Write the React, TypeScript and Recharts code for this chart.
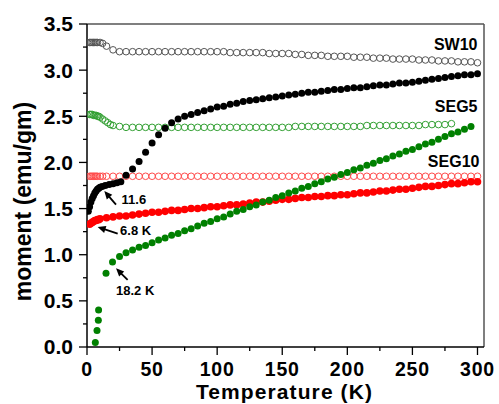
import React from "react";
import { ScatterChart, Scatter, XAxis, YAxis, ReferenceLine } from "recharts";

type Pt = [number, number];

// field-cooled (open symbols)
const sw10Fc: Pt[] = [
  [2, 3.3], [3, 3.3], [4, 3.3], [5, 3.3], [6, 3.3], [7, 3.3], [8, 3.3], [10, 3.3],
  [12, 3.29], [15, 3.26], [20, 3.22], [25, 3.2], [30, 3.2], [35, 3.2], [40, 3.2],
  [45, 3.2], [50, 3.2], [55, 3.2], [60, 3.2], [65, 3.2], [70, 3.2], [75, 3.2],
  [80, 3.2], [85, 3.2], [90, 3.2], [95, 3.2], [100, 3.2], [105, 3.2], [110, 3.19],
  [115, 3.19], [120, 3.19], [125, 3.19], [130, 3.19], [135, 3.19], [140, 3.18],
  [145, 3.18], [150, 3.18], [155, 3.18], [160, 3.17], [165, 3.17], [170, 3.16],
  [175, 3.16], [180, 3.16], [185, 3.15], [190, 3.15], [195, 3.15], [200, 3.15],
  [205, 3.14], [210, 3.14], [215, 3.14], [220, 3.13], [225, 3.13], [230, 3.13],
  [235, 3.12], [240, 3.12], [245, 3.12], [250, 3.12], [255, 3.11], [260, 3.11],
  [265, 3.11], [270, 3.1], [275, 3.1], [280, 3.1], [285, 3.09], [290, 3.09],
  [295, 3.09], [300, 3.08],
];

const seg5Fc: Pt[] = [
  [2, 2.52], [3, 2.52], [4, 2.52], [5, 2.51], [6, 2.51], [7, 2.51], [8, 2.5],
  [9, 2.5], [10, 2.49], [12, 2.47], [14, 2.45], [16, 2.43], [18, 2.41], [20, 2.4],
  [25, 2.39], [30, 2.38], [35, 2.38], [40, 2.38], [45, 2.38], [50, 2.38], [55, 2.38],
  [60, 2.38], [65, 2.38], [70, 2.38], [75, 2.38], [80, 2.38], [85, 2.38], [90, 2.38],
  [95, 2.38], [100, 2.38], [105, 2.38], [110, 2.38], [115, 2.38], [120, 2.38],
  [125, 2.38], [130, 2.38], [135, 2.38], [140, 2.38], [145, 2.38], [150, 2.38],
  [155, 2.38], [160, 2.39], [165, 2.39], [170, 2.39], [175, 2.39], [180, 2.39],
  [185, 2.39], [190, 2.39], [195, 2.39], [200, 2.39], [205, 2.39], [210, 2.39],
  [215, 2.4], [220, 2.4], [225, 2.4], [230, 2.4], [235, 2.4], [240, 2.4],
  [245, 2.4], [250, 2.4], [255, 2.4], [260, 2.41], [265, 2.41], [270, 2.41],
  [275, 2.41], [280, 2.42],
];

const seg10Fc: Pt[] = [
  [2, 1.85], [3, 1.85], [4, 1.85], [5, 1.85], [6, 1.85], [7, 1.85], [8, 1.85],
  [10, 1.85], [12, 1.85], [15, 1.85], [20, 1.85], [25, 1.85], [30, 1.85], [35, 1.85],
  [40, 1.85], [45, 1.85], [50, 1.85], [55, 1.85], [60, 1.85], [65, 1.85], [70, 1.85],
  [75, 1.85], [80, 1.85], [85, 1.85], [90, 1.85], [95, 1.85], [100, 1.85],
  [105, 1.85], [110, 1.85], [115, 1.85], [120, 1.85], [125, 1.85], [130, 1.85],
  [135, 1.85], [140, 1.85], [145, 1.85], [150, 1.85], [155, 1.85], [160, 1.85],
  [165, 1.85], [170, 1.85], [175, 1.85], [180, 1.85], [185, 1.85], [190, 1.85],
  [195, 1.85], [200, 1.85], [205, 1.85], [210, 1.85], [215, 1.85], [220, 1.85],
  [225, 1.85], [230, 1.85], [235, 1.85], [240, 1.85], [245, 1.85], [250, 1.85],
  [255, 1.85], [260, 1.85], [265, 1.85], [270, 1.85], [275, 1.85], [280, 1.85],
  [285, 1.85], [290, 1.85], [295, 1.85], [300, 1.85],
];

// zero-field-cooled (filled symbols)
const sw10Zfc: Pt[] = [
  [1, 1.47], [2, 1.52], [3, 1.57], [4, 1.61], [5, 1.64], [6, 1.67], [7, 1.69],
  [8, 1.71], [9, 1.72], [10, 1.73], [11.6, 1.74], [14, 1.75], [17, 1.76], [20, 1.77],
  [23, 1.78], [26, 1.79], [30, 1.86], [35, 1.93], [40, 2.01], [45, 2.11], [50, 2.21],
  [55, 2.3], [60, 2.37], [65, 2.43], [70, 2.47], [75, 2.5], [80, 2.52], [85, 2.54],
  [90, 2.56], [95, 2.58], [100, 2.6], [105, 2.61], [110, 2.63], [115, 2.64],
  [120, 2.66], [125, 2.67], [130, 2.68], [135, 2.69], [140, 2.7], [145, 2.71],
  [150, 2.72], [155, 2.73], [160, 2.74], [165, 2.75], [170, 2.76], [175, 2.76],
  [180, 2.77], [185, 2.78], [190, 2.79], [195, 2.79], [200, 2.8], [205, 2.81],
  [210, 2.81], [215, 2.82], [220, 2.83], [225, 2.84], [230, 2.84], [235, 2.85],
  [240, 2.86], [245, 2.86], [250, 2.87], [255, 2.88], [260, 2.89], [265, 2.9],
  [270, 2.91], [275, 2.92], [280, 2.93], [285, 2.94], [290, 2.95], [295, 2.95],
  [300, 2.96],
];

const seg10Zfc: Pt[] = [
  [2, 1.33], [3, 1.34], [4, 1.35], [5, 1.36], [6, 1.37], [7, 1.37], [8, 1.38],
  [9, 1.38], [10, 1.39], [15, 1.4], [20, 1.41], [25, 1.42], [30, 1.42], [35, 1.43],
  [40, 1.44], [45, 1.45], [50, 1.46], [55, 1.46], [60, 1.47], [65, 1.48], [70, 1.48],
  [75, 1.49], [80, 1.5], [85, 1.5], [90, 1.51], [95, 1.52], [100, 1.52], [105, 1.53],
  [110, 1.54], [115, 1.54], [120, 1.55], [125, 1.56], [130, 1.57], [135, 1.57],
  [140, 1.58], [145, 1.59], [150, 1.6], [155, 1.6], [160, 1.61], [165, 1.62],
  [170, 1.62], [175, 1.63], [180, 1.63], [185, 1.64], [190, 1.64], [195, 1.65],
  [200, 1.65], [205, 1.66], [210, 1.67], [215, 1.67], [220, 1.68], [225, 1.69],
  [230, 1.69], [235, 1.7], [240, 1.71], [245, 1.71], [250, 1.72], [255, 1.73],
  [260, 1.74], [265, 1.74], [270, 1.75], [275, 1.76], [280, 1.77], [285, 1.77],
  [290, 1.78], [295, 1.79], [300, 1.79],
];

const seg5Zfc: Pt[] = [
  [6.4, 0.05], [7.7, 0.18], [8.7, 0.29], [8.9, 0.4], [14.6, 0.8], [19.6, 0.92],
  [25, 0.98], [30, 1.02], [35, 1.05], [40, 1.08], [45, 1.1], [50, 1.13], [55, 1.16],
  [60, 1.18], [65, 1.21], [70, 1.23], [75, 1.26], [80, 1.28], [85, 1.31], [90, 1.34],
  [95, 1.36], [100, 1.39], [105, 1.41], [110, 1.44], [115, 1.47], [120, 1.49],
  [125, 1.52], [130, 1.54], [135, 1.57], [140, 1.59], [145, 1.62], [150, 1.64],
  [155, 1.67], [160, 1.69], [165, 1.72], [170, 1.74], [175, 1.77], [180, 1.79],
  [185, 1.82], [190, 1.84], [195, 1.87], [200, 1.89], [205, 1.92], [210, 1.94],
  [215, 1.97], [220, 1.99], [225, 2.02], [230, 2.04], [235, 2.07], [240, 2.09],
  [245, 2.12], [250, 2.14], [255, 2.17], [260, 2.2], [265, 2.22], [270, 2.25],
  [275, 2.28], [280, 2.31], [285, 2.33], [290, 2.36], [295, 2.39],
];

const xTicks = [0, 25, 50, 75, 100, 125, 150, 175, 200, 225, 250, 275, 300];
const yTicks = [0, 0.25, 0.5, 0.75, 1, 1.25, 1.5, 1.75, 2, 2.25, 2.5, 2.75, 3, 3.25, 3.5];

const seriesLabels = [
  { t: 300, m: 3.22, text: "SW10" },
  { t: 300, m: 2.55, text: "SEG5" },
  { t: 301.5, m: 1.95, text: "SEG10" },
];

// arrow tips sit on the data, text and tail are offset in pixels
const arrowNotes = [
  { t: 13.3, m: 1.69, text: "11.6" },
  { t: 8.2, m: 1.3, text: "6.8 K" },
  { t: 22.3, m: 0.853, text: "18.2 K" },
];
const noteLayout = [
  { tail: [11.7, 13.6], txt: [17.3, 12.6] },
  { tail: [20, 6.6], txt: [22.4, 8.3] },
  { tail: [11.6, 11.7], txt: [0, 26.7] },
];

const FONT = "'Liberation Sans', Arial, Helvetica, sans-serif";
const TICK = 8;
const X_MARGIN = 7;
const Y_MARGIN = 6;

const toRows = (pts: Pt[]) => pts.map(([t, m]) => ({ t, m }));

const openDot = (stroke: string) => (p: any) =>
  <circle cx={p.cx} cy={p.cy} r={3.3} fill="none" stroke={stroke} strokeWidth={1} />;

const filledDot = (fill: string, r = 3.5) => (p: any) =>
  <circle cx={p.cx} cy={p.cy} r={r} fill={fill} stroke="none" />;

const XTick = (props: any) => {
  const { x, y, payload } = props;
  const v = payload.value;
  const major = v % 50 === 0;
  const axisY = y - TICK - X_MARGIN;
  return (
    <g>
      <line x1={x} x2={x} y1={axisY} y2={axisY + (major ? TICK : 4)} stroke="#000" strokeWidth={1.3} />
      {major && (
        <text x={x} y={y} dy="0.71em" textAnchor="middle" fontFamily={FONT} fontWeight="bold" fontSize={19.5} letterSpacing={0.8} fill="#000">
          {v}
        </text>
      )}
    </g>
  );
};

const YTick = (props: any) => {
  const { x, y, payload } = props;
  const v = payload.value;
  const major = Math.abs((v * 2) % 1) < 1e-6;
  const axisX = x + TICK + Y_MARGIN;
  return (
    <g>
      <line x1={axisX} x2={axisX - (major ? TICK : 4)} y1={y} y2={y} stroke="#000" strokeWidth={1.3} />
      {major && (
        <text x={x} y={y} dy="0.355em" textAnchor="end" fontFamily={FONT} fontWeight="bold" fontSize={21} fill="#000">
          {v.toFixed(1)}
        </text>
      )}
    </g>
  );
};

const SeriesLabel = (p: any) => (
  <text x={p.cx} y={p.cy} textAnchor="end" fontFamily={FONT} fontWeight="bold" fontSize={16} fill="#000">
    {p.payload.text}
  </text>
);

const ArrowNote = (p: any) => {
  const i = arrowNotes.findIndex((n) => n.text === p.payload.text);
  const lay = noteLayout[i];
  const tx = p.cx + lay.tail[0];
  const ty = p.cy + lay.tail[1];
  const dx = p.cx - tx;
  const dy = p.cy - ty;
  const len = Math.sqrt(dx * dx + dy * dy);
  const ux = dx / len;
  const uy = dy / len;
  const hl = 8;
  const hw = 3.6;
  const bx = p.cx - ux * hl;
  const by = p.cy - uy * hl;
  const head = `${p.cx},${p.cy} ${bx - uy * hw},${by + ux * hw} ${bx + uy * hw},${by - ux * hw}`;
  return (
    <g>
      <line x1={tx} y1={ty} x2={bx + ux * 2} y2={by + uy * 2} stroke="#000" strokeWidth={1.8} />
      <polygon points={head} fill="#000" />
      <text x={p.cx + lay.txt[0]} y={p.cy + lay.txt[1]} fontFamily={FONT} fontWeight="bold" fontSize={13} fill="#000">
        {p.payload.text}
      </text>
    </g>
  );
};

const YTitle = (props: any) => {
  const vb = props.viewBox || { x: 27, y: 24, width: 60, height: 323 };
  const cx = vb.x - 4;
  const cy = vb.y + vb.height / 2 + 16;
  return (
    <text x={cx} y={cy} transform={`rotate(-90, ${cx}, ${cy})`} textAnchor="middle" dy="0.355em"
      fontFamily={FONT} fontWeight="bold" fontSize={23} fill="#000">
      moment (emu/gm)
    </text>
  );
};

const XTitle = (props: any) => {
  const vb = props.viewBox || { x: 87, y: 347, width: 397, height: 40 };
  return (
    <text x={vb.x + vb.width / 2 - 1} y={398.5} textAnchor="middle"
      fontFamily={FONT} fontWeight="bold" fontSize={21} letterSpacing={1.1} fill="#000">
      Temperature (K)
    </text>
  );
};

const App: React.FC = () => {
  return (
    <div style={{ position: "absolute", left: 0, top: 0, width: 499, height: 404, background: "#fff" }}>
      <ScatterChart width={499} height={404} margin={{ top: 24, right: 15, bottom: 17, left: 27 }}>
        <XAxis
          dataKey="t"
          type="number"
          domain={[0, 305]}
          ticks={xTicks}
          interval={0}
          height={40}
          tickSize={TICK}
          tickMargin={X_MARGIN}
          tickLine={false}
          tick={<XTick />}
          axisLine={{ stroke: "#000", strokeWidth: 1.5 }}
          allowDataOverflow
          label={<XTitle />}
        />
        <YAxis
          dataKey="m"
          type="number"
          domain={[0, 3.5]}
          ticks={yTicks}
          interval={0}
          width={60}
          tickSize={TICK}
          tickMargin={Y_MARGIN}
          tickLine={false}
          tick={<YTick />}
          axisLine={{ stroke: "#000", strokeWidth: 1.5 }}
          allowDataOverflow
          label={<YTitle />}
        />
        <ReferenceLine y={3.5} stroke="#555" strokeWidth={1.5} />
        <ReferenceLine x={305} stroke="#555" strokeWidth={1.5} />
        <Scatter data={toRows(sw10Fc)} shape={openDot("#555")} isAnimationActive={false} />
        <Scatter data={toRows(seg5Fc)} shape={openDot("#33a033")} isAnimationActive={false} />
        <Scatter data={toRows(seg10Fc)} shape={openDot("#ff4d4d")} isAnimationActive={false} />
        <Scatter data={toRows(seg10Zfc)} shape={filledDot("#ff0000", 3.8)} isAnimationActive={false} />
        <Scatter data={toRows(sw10Zfc)} shape={filledDot("#000000", 3.5)} isAnimationActive={false} />
        <Scatter data={toRows(seg5Zfc)} shape={filledDot("#008000", 3.5)} isAnimationActive={false} />
        <Scatter
          data={seriesLabels.map((s) => ({ t: s.t, m: s.m, text: s.text }))}
          shape={<SeriesLabel />}
          isAnimationActive={false}
        />
        <Scatter
          data={arrowNotes.map((n) => ({ t: n.t, m: n.m, text: n.text }))}
          shape={<ArrowNote />}
          isAnimationActive={false}
        />
      </ScatterChart>
    </div>
  );
};

export default App;
